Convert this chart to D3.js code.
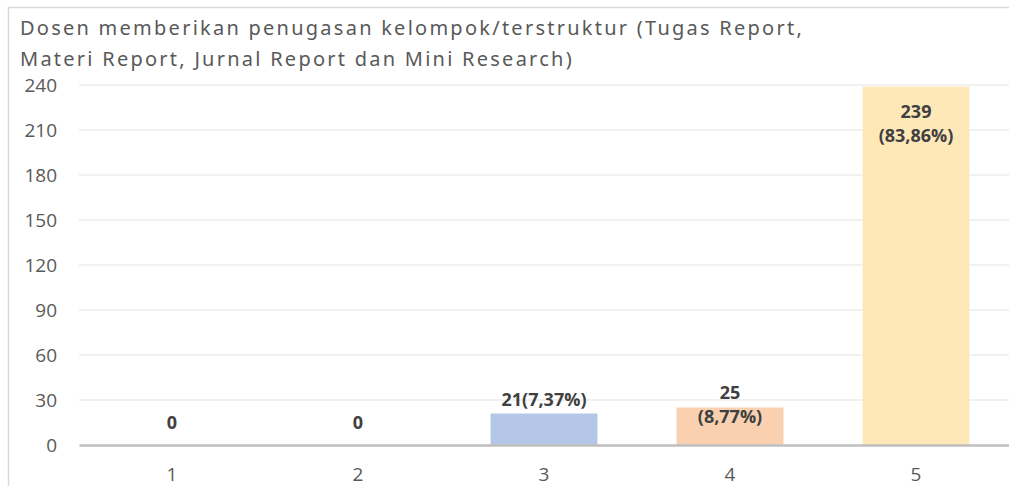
<!DOCTYPE html>
<html><head><meta charset="utf-8">
<script src="https://cdn.jsdelivr.net/npm/d3@7"></script>
<style>body{margin:0;background:#fff}svg{display:block}</style>
</head><body>
<svg id="c" width="1009" height="486"></svg>
<script>
const categories = ["1","2","3","4","5"];
const values = [0,0,21,25,239];
const labelLines = [["0"],["0"],["21(7,37%)"],["25","(8,77%)"],["239","(83,86%)"]];
const barColors = ["#b4c7e7","#b4c7e7","#b4c7e7","#f9d1b0","#fee8b8"];
const yTicks = [0,30,60,90,120,150,180,210,240];
const titleLines = ["Dosen memberikan penugasan kelompok/terstruktur (Tugas Report,","Materi Report, Jurnal Report dan Mini Research)"];

const svg = d3.select("#c");
// frame
svg.append("rect").attr("x",8.5).attr("y",7.5).attr("width",1100).attr("height",600)
  .attr("fill","none").attr("stroke","#d9d9d9").attr("stroke-width",1.5);

const x = d3.scaleBand().domain(categories).range([79,1009]).paddingInner(0.425).paddingOuter(0.2125);
const y = d3.scaleLinear().domain([0,240]).range([445,85]);

// title
svg.append("g").selectAll("text").data(titleLines).join("text")
  .attr("x",20).attr("y",(d,i)=>35+i*31)
  .attr("font-family","Noto Sans").attr("font-size",20).attr("letter-spacing",2.25)
  .attr("fill","#595959").text(d=>d);

// grid
svg.append("g").selectAll("line").data(yTicks.filter(t=>t>0)).join("line")
  .attr("x1",79).attr("x2",1009).attr("y1",d=>y(d)).attr("y2",d=>y(d))
  .attr("stroke","#ededed").attr("stroke-width",1.5);

// y axis labels
const yAxis = svg.append("g").attr("transform","translate(57,0)")
  .call(d3.axisLeft(y).tickValues(yTicks).tickSize(0).tickPadding(0));
yAxis.select(".domain").remove();
yAxis.selectAll("text").attr("font-family","Open Sans").attr("font-size",19).attr("fill","#595959");

// bars
svg.append("g").selectAll("rect").data(values).join("rect")
  .attr("x",(d,i)=>x(categories[i])).attr("width",x.bandwidth())
  .attr("y",d=>y(d)).attr("height",d=>y(0)-y(d))
  .attr("fill",(d,i)=>barColors[i]);

// x axis
const xAxis = svg.append("g").attr("transform","translate(0,445)")
  .call(d3.axisBottom(x).tickSize(0).tickPadding(23));
xAxis.select(".domain").attr("stroke","#bfbfbf").attr("stroke-width",2.5);
xAxis.selectAll("text").attr("font-family","Open Sans").attr("font-size",19).attr("fill","#595959");

// data labels
const lh = 24;
const lbl = svg.append("g");
values.forEach((v,i)=>{
  const lines = labelLines[i];
  let base;
  if (v > 200) base = y(v) + 31;           // inside top of tall bar
  else if (lines.length > 1) base = y(v) - 9; // two-line label above short bar
  else base = y(v) - (v===0 ? 16 : 8);
  lines.forEach((t,k)=>{
    lbl.append("text").attr("x",x(categories[i])+x.bandwidth()/2).attr("y",base+k*lh)
      .attr("text-anchor","middle").attr("font-family","Open Sans").attr("font-weight","bold")
      .attr("font-size",18).attr("fill","#404040").text(t);
  });
});
</script>
</body></html>
